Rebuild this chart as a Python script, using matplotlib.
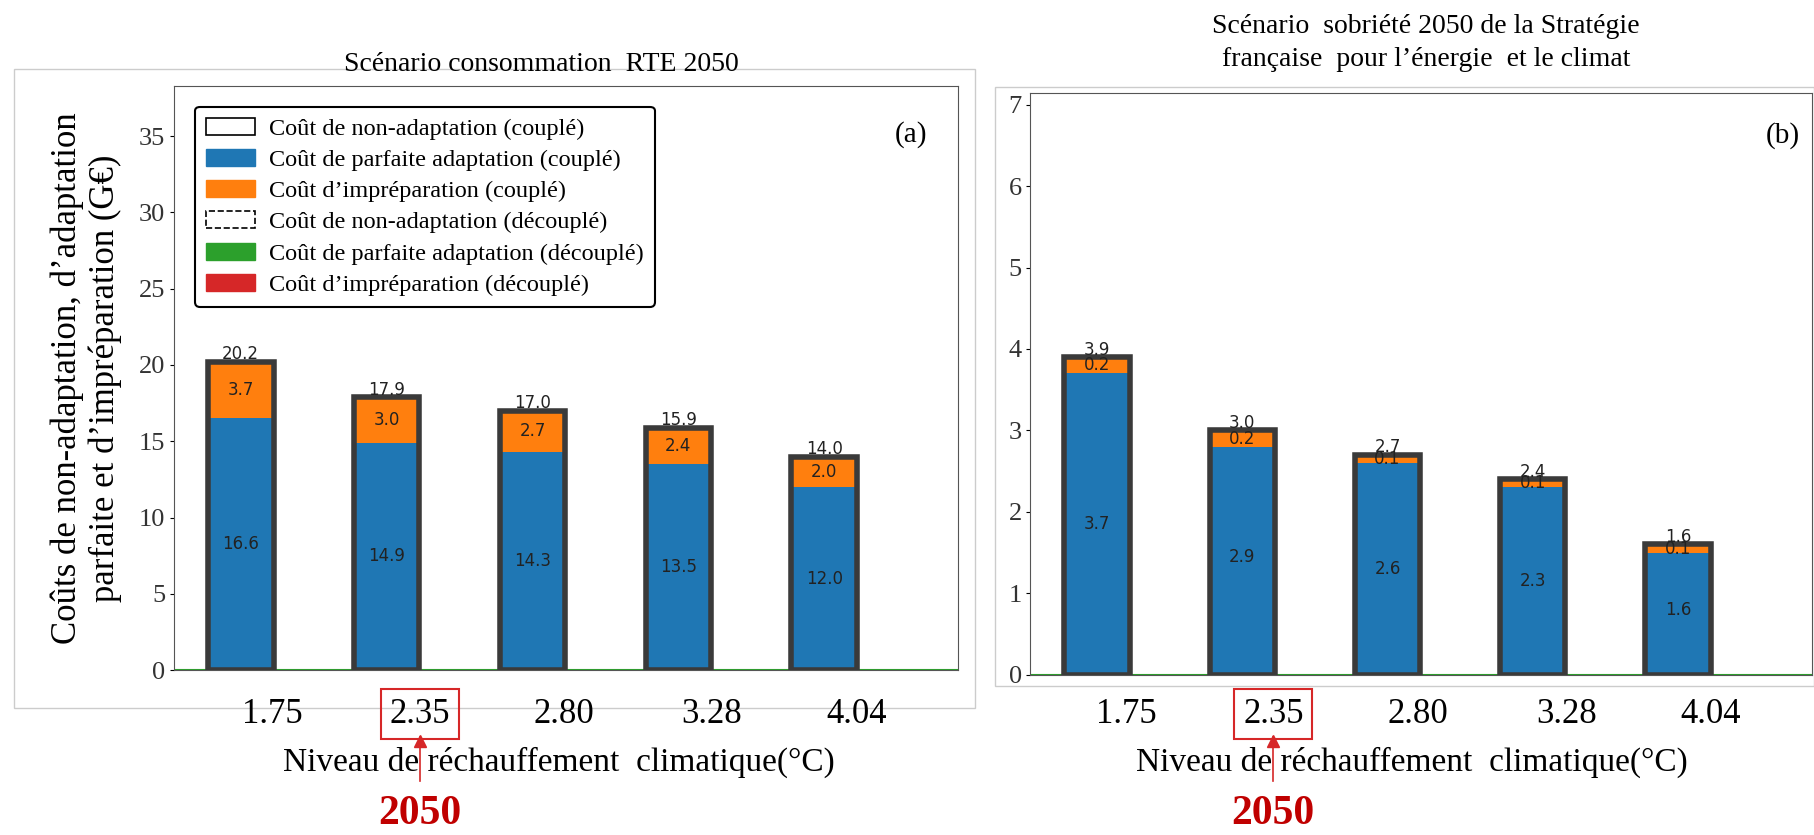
import matplotlib.pyplot as plt
from matplotlib.patches import Rectangle

levels = ['1.75', '2.35', '2.80', '3.28', '4.04']

# panel (a): RTE 2050
adapt_a = [16.6, 14.9, 14.3, 13.5, 12.0]
imprep_a = [3.7, 3.0, 2.7, 2.4, 2.0]
total_a = [20.2, 17.9, 17.0, 15.9, 14.0]

# panel (b): sobriete SFEC
adapt_b = [3.7, 2.9, 2.6, 2.3, 1.6]
imprep_b = [0.2, 0.2, 0.1, 0.1, 0.1]
total_b = [3.9, 3.0, 2.7, 2.4, 1.6]

legend_labels = ["Coût de non-adaptation (couplé)",
                 "Coût de parfaite adaptation (couplé)",
                 "Coût d’impréparation (couplé)",
                 "Coût de non-adaptation (découplé)",
                 "Coût de parfaite adaptation (découplé)",
                 "Coût d’impréparation (découplé)"]

serif = 'Liberation Serif'
blue, orange = '#1f77b4', '#ff7f0e'

fig = plt.figure(figsize=(18.15, 8.35), dpi=100)
# layout measured on a 0.864-scaled view of the reference
W, H = 1568, 721.4


def ax_at(x0, y0, x1, y1):
    return fig.add_axes([x0 / W, 1 - y1 / H, (x1 - x0) / W, (y1 - y0) / H])


# light frames around the panels
fig.add_artist(Rectangle((12 / W, 1 - 612 / H), 830 / W, 552 / H, transform=fig.transFigure,
                         fill=False, ec='#cccccc', lw=1))
fig.add_artist(Rectangle((860 / W, 1 - 593 / H), 707 / W, 518 / H, transform=fig.transFigure,
                         fill=False, ec='#cccccc', lw=1))

axa = ax_at(150, 74, 828, 579)
axb = ax_at(890, 80.5, 1565, 583)


def draw(ax, adapt, imprep, total, ymax, yticks, off):
    pos = list(range(len(total)))
    ax.bar(pos, adapt, width=0.45, color=blue, zorder=2)
    bottoms = [t - i for t, i in zip(total, imprep)]
    ax.bar(pos, imprep, bottom=bottoms, width=0.45, color=orange, zorder=2)
    ax.bar(pos, total, width=0.45, fill=False, edgecolor='#3a3a3a', lw=4, zorder=3)
    for p, a, b, i, t in zip(pos, adapt, bottoms, imprep, total):
        ax.text(p, a / 2, f'{a:.1f}', ha='center', va='center', fontsize=12, color='#222222', zorder=4)
        ax.text(p, b + i / 2, f'{i:.1f}', ha='center', va='center', fontsize=12, color='#222222', zorder=4)
        ax.text(p, t + off, f'{t:.1f}', ha='center', va='bottom', fontsize=12, color='#222222', zorder=4)
    ax.axhline(0, color='#2ca02c', lw=1.5, zorder=1)
    ax.set_xlim(-0.46, 4.92)
    ax.set_ylim(0, ymax)
    ax.set_yticks(yticks)
    ax.set_yticklabels([str(v) for v in yticks], fontfamily=serif, fontsize=19, color='#333333')
    ax.tick_params(axis='y', length=3, pad=3)
    ax.set_xticks([])
    for s in ax.spines.values():
        s.set_color('#555555')


draw(axa, adapt_a, imprep_a, total_a, 38.3, [0, 5, 10, 15, 20, 25, 30, 35], -0.1)
draw(axb, adapt_b, imprep_b, total_b, 7.14, [0, 1, 2, 3, 4, 5, 6, 7], -0.02)

axa.text(0.96, 0.94, '(a)', transform=axa.transAxes, ha='right', va='top', fontfamily=serif, fontsize=21)
axb.text(0.985, 0.95, '(b)', transform=axb.transAxes, ha='right', va='top', fontfamily=serif, fontsize=21)
fig.text(468 / W, 1 - 56 / H, 'Scénario consommation  RTE 2050', ha='center', va='center',
         fontfamily=serif, fontsize=20)
fig.text(1232 / W, 1 - 37 / H, 'Scénario  sobriété 2050 de la Stratégie\nfrançaise  pour l’énergie  et le climat',
         ha='center', va='center', fontfamily=serif, fontsize=20, linespacing=1.4)
axa.set_ylabel('Coûts de non-adaptation, d’adaptation\nparfaite et d’impréparation (G€)',
               fontfamily=serif, fontsize=25, labelpad=12)

handles = [Rectangle((0, 0), 1, 1, fill=False, ec='black', lw=1.2),
           Rectangle((0, 0), 1, 1, color=blue),
           Rectangle((0, 0), 1, 1, color=orange),
           Rectangle((0, 0), 1, 1, fill=False, ec='black', ls='--', lw=1.2),
           Rectangle((0, 0), 1, 1, color='#2ca02c'),
           Rectangle((0, 0), 1, 1, color='#d62728')]
leg = axa.legend(handles, legend_labels, loc='upper left', prop={'family': serif, 'size': 17.5},
                 frameon=True, fancybox=True, edgecolor='black', framealpha=1,
                 handlelength=2.0, borderpad=0.45, labelspacing=0.38, handletextpad=0.6,
                 bbox_to_anchor=(0.012, 0.985))
leg.get_frame().set_linewidth(1.5)

# boxed warming-level labels under each panel
box_a = [235, 363, 487, 615, 740]
box_b = [973, 1100, 1225, 1353, 1478]
for xs, xl in ((box_a, 483), (box_b, 1220)):
    for x, lab in zip(xs, levels):
        red = lab == '2.35'
        fig.text(x / W, 1 - 617 / H, lab, ha='center', va='center', fontfamily=serif, fontsize=25,
                 bbox=dict(boxstyle='square,pad=0.25', fc='none', ec='#d62728' if red else 'none', lw=1.5))
    arrow_x = xs[1]
    fig.text(arrow_x / W, 1 - 703 / H, '2050', ha='center', va='center', fontfamily=serif,
             fontsize=30, fontweight='bold', color='#c00000')
    fig.add_artist(plt.Line2D([arrow_x / W] * 2, [1 - 675 / H, 1 - 637 / H], color='#d62728', lw=1.2))
    fig.add_artist(plt.Line2D([arrow_x / W], [1 - 640 / H], marker='^', color='#d62728', ms=8))
    fig.text(xl / W, 1 - 659 / H, 'Niveau de réchauffement  climatique(°C)', ha='center', va='center',
             fontfamily=serif, fontsize=24)

fig.savefig('out.png', dpi=100)
